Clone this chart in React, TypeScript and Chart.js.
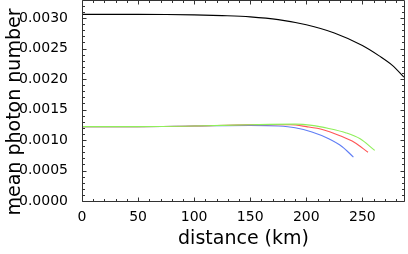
import React, { useEffect, useRef } from "react";
import { Chart, registerables } from "chart.js";

Chart.register(...registerables);

const blackDist = [0, 25, 50, 75, 100, 125, 150, 175, 200, 225, 250, 265, 277, 287];
const blackVals = [0.00306, 0.00306, 0.00306, 0.003058, 0.003052, 0.00304, 0.00302, 0.002975, 0.00289, 0.002755, 0.00255, 0.00238, 0.00222, 0.00203];

const blueDist = [0, 50, 100, 150, 175, 190, 205, 220, 232, 242];
const blueVals = [0.00122, 0.00122, 0.00123, 0.00124, 0.00123, 0.0012, 0.00113, 0.00102, 0.00089, 0.00072];

const redDist = [0, 50, 100, 150, 186, 200, 215, 230, 243, 255];
const redVals = [0.00122, 0.00122, 0.00123, 0.00125, 0.00125, 0.00122, 0.00117, 0.00107, 0.00096, 0.0008];

const greenDist = [0, 50, 100, 150, 190, 205, 220, 235, 248, 261];
const greenVals = [0.00122, 0.00122, 0.00123, 0.00125, 0.00126, 0.00124, 0.00119, 0.00112, 0.00102, 0.00083];

const xMin = 0;
const xMax = 288;
const xStep = 50;
const xMinorStep = 10;
const yMin = 0;
const yMax = 0.00328;
const yStep = 0.0005;
const yMinorStep = 0.0001;

const yTitle = "mean photon number";
const xTitle = "distance (km)";

const toPts = (xs: number[], ys: number[]) => xs.map((x, i) => ({ x, y: ys[i] }));

const framePlugin = {
  id: "frameTicks",
  afterDatasetsDraw(chart: any) {
    const { ctx, chartArea, scales } = chart;
    const { left, right, top, bottom } = chartArea;
    const xs = scales.x;
    const ys = scales.y;
    ctx.save();
    ctx.strokeStyle = "#333";
    ctx.lineWidth = 1;
    ctx.beginPath();
    const L = Math.round(left) + 0.5;
    const R = Math.round(right) - 0.5;
    const T = Math.round(top) - 0.5;
    const B = Math.round(bottom) + 0.5;
    ctx.rect(L, T, R - L, B - T);
    for (let v = xMin; v <= xMax + 1e-9; v += xMinorStep) {
      const px = Math.round(xs.getPixelForValue(v)) + 0.5;
      const len = Math.abs(v % xStep) < 1e-9 ? 4 : 2.5;
      ctx.moveTo(px, B);
      ctx.lineTo(px, B - len);
      ctx.moveTo(px, T);
      ctx.lineTo(px, T + len);
    }
    for (let i = 0; i * yMinorStep <= yMax + 1e-12; i++) {
      const v = i * yMinorStep;
      const py = Math.round(ys.getPixelForValue(v)) + 0.5;
      const len = i % 5 === 0 ? 4 : 2.5;
      ctx.moveTo(L, py);
      ctx.lineTo(L + len, py);
      ctx.moveTo(R, py);
      ctx.lineTo(R - len, py);
    }
    ctx.stroke();
    ctx.fillStyle = "#000";
    ctx.font = "19px 'DejaVu Sans'";
    ctx.textAlign = "center";
    ctx.textBaseline = "middle";
    ctx.translate(15, 112);
    ctx.rotate(-Math.PI / 2);
    ctx.fillText(yTitle, 0, 0);
    ctx.restore();
  },
};

export default function App() {
  const ref = useRef<HTMLCanvasElement | null>(null);
  useEffect(() => {
    document.body.style.margin = "0";
    if (!ref.current) return;
    const mk = (label: string, xs: number[], ys: number[], color: string) => ({
      label,
      data: toPts(xs, ys),
      borderColor: color,
      backgroundColor: color,
      borderWidth: 1.1,
      pointRadius: 0,
      cubicInterpolationMode: "monotone" as const,
      fill: false,
    });
    const chart = new Chart(ref.current, {
      type: "line",
      data: {
        datasets: [
          mk("black", blackDist, blackVals, "#000000"),
          mk("green", greenDist, greenVals, "#8fef5a"),
          mk("red", redDist, redVals, "#ff5555"),
          mk("blue", blueDist, blueVals, "#5f7df5"),
        ],
      },
      options: {
        animation: false,
        responsive: false,
        maintainAspectRatio: false,
        layout: { padding: { top: 1, right: 3, left: 0, bottom: 0 } },
        plugins: { legend: { display: false }, tooltip: { enabled: false } },
        scales: {
          x: {
            type: "linear",
            min: xMin,
            max: xMax,
            grid: { display: false },
            border: { display: false },
            ticks: {
              stepSize: xStep,
              color: "#000",
              font: { family: "DejaVu Sans", size: 14 },
              padding: 0,
              maxRotation: 0,
            },
            afterBuildTicks: (s: any) => {
              s.ticks = s.ticks.filter((t: any) => Math.abs(t.value % xStep) < 1e-9);
            },
            afterFit: (s: any) => {
              s.height = 53;
              s.paddingLeft = 0;
              s.paddingRight = 0;
            },
            title: {
              display: true,
              text: xTitle,
              color: "#000",
              font: { family: "DejaVu Sans", size: 19 },
              padding: { top: 0, bottom: 4 },
            },
          },
          y: {
            type: "linear",
            min: yMin,
            max: yMax,
            grid: { display: false },
            border: { display: false },
            ticks: {
              stepSize: yStep,
              color: "#000",
              font: { family: "DejaVu Sans", size: 14 },
              padding: 6,
              callback: (v: any) => Number(v).toFixed(4),
            },
            afterBuildTicks: (s: any) => {
              s.ticks = s.ticks.filter((t: any) => {
                const r = t.value / yStep;
                return Math.abs(r - Math.round(r)) < 1e-6;
              });
            },
            afterFit: (s: any) => {
              s.width = 82;
              s.paddingTop = 0;
              s.paddingBottom = 0;
            },
            title: { display: false },
          },
        },
      },
      plugins: [framePlugin],
    });
    return () => chart.destroy();
  }, []);
  return (
    <div style={{ width: 408, height: 254, position: "relative" }}>
      <canvas ref={ref} width={408} height={254} style={{ width: 408, height: 254, display: "block" }} />
    </div>
  );
}
